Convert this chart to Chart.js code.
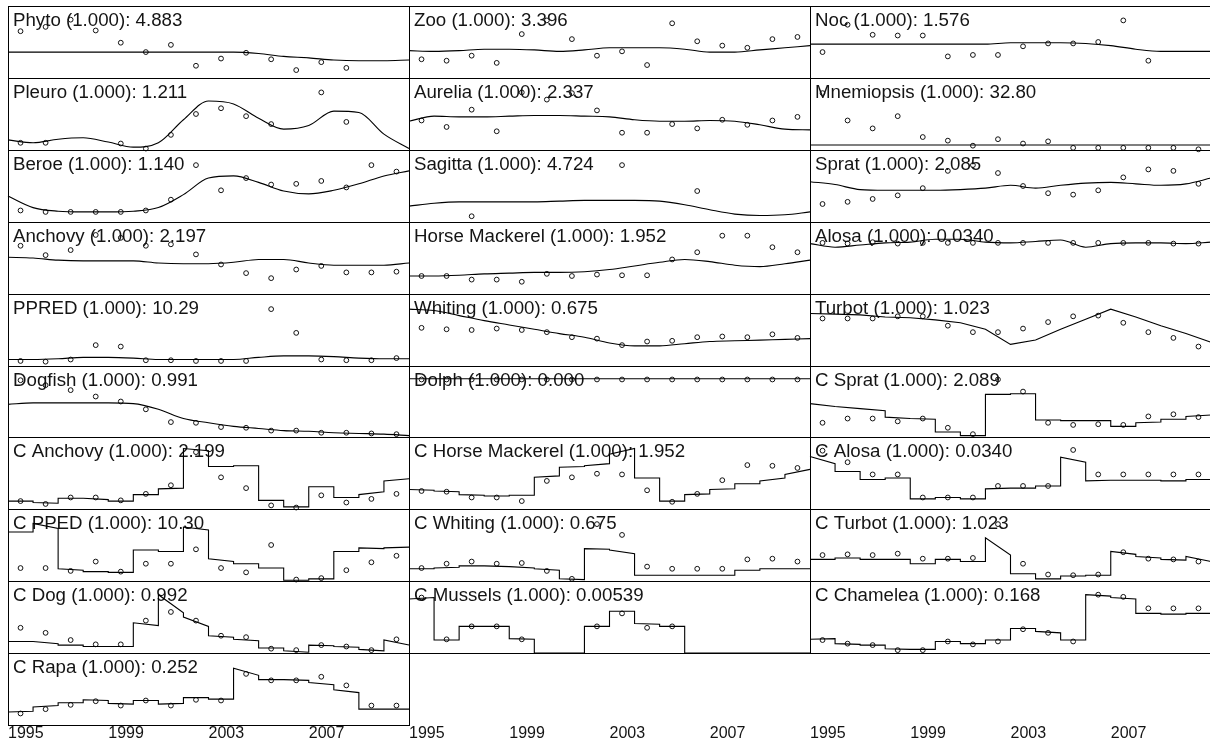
<!DOCTYPE html>
<html><head><meta charset="utf-8">
<script src="https://cdn.jsdelivr.net/npm/chart.js@4.4.1/dist/chart.umd.min.js"></script>
<style>
html,body{margin:0;padding:0;background:#fff;width:1210px;height:743px;overflow:hidden;position:relative}
canvas{position:absolute;display:block}
</style>
</head><body>
<script>
// ---- categories / ticks ----
const years = [1995,1996,1997,1998,1999,2000,2001,2002,2003,2004,2005,2006,2007,2008,2009,2010];
const fitYears = [1995,1996,1997,1998,1999,2000,2001,2002,2003,2004,2005,2006,2007,2008,2009,2010,2011];
const tickYears = [1995,1999,2003,2007];

// ---- values (relative, % of panel height) ----
const phytoObs = [65,71,81,66,49,36,46,17,27,35,26,11,22,14,null,null];
const phytoFit = [36,36,36,36,36,36,36,36,36,36,34,30,28,25,24,24,25];
const zooObs = [26,24,31,21,61,80,54,31,37,18,76,51,45,42,54,57];
const zooFit = [38,37,38,40,40,39,37,39,42,42,42,40,36,36,39,42,45];
const nocObs = [36,74,60,59,59,30,32,32,44,48,48,50,80,24,null,null];
const nocFit = [47,47,47,47,47,47,47,47,49,49,49,48,45,40,37,37,37];

const pleuroObs = [10,10,null,null,9,2,21,50,58,47,36,null,80,39,null,null];
const pleuroFit = [14,10,15,17,11,4,10,42,68,64,44,29,34,54,52,22,2];
const aureliaObs = [41,32,56,26,80,70,79,55,24,24,36,30,42,35,41,46];
const aureliaFit = [40,47,46,46,47,48,48,47,46,42,40,40,41,40,35,29,28];
const mnemiopsisObs = [79,41,30,47,18,13,6,15,9,12,3,3,3,3,3,1];
const mnemiopsisFit = [7,7,7,7,7,7,7,7,7,7,7,7,7,7,7,7,7];

const beroeObs = [16,14,14,14,14,16,31,79,44,61,52,53,57,48,79,70];
const beroeFit = [36,20,15,14,14,15,20,38,61,64,55,43,39,44,53,64,71];
const sagittaObs = [null,null,8,null,null,null,null,null,79,null,null,43,null,null,null,null];
const sagittaFit = [22,26,28,28,28,28,29,30,30,30,29,24,17,11,9,10,14];
const spratObs = [25,28,32,37,47,71,79,68,50,40,38,44,62,73,71,53];
const spratFit = [56,52,45,44,44,44,45,47,51,47,51,54,55,53,51,53,61];

const anchovyObs = [67,54,61,82,78,67,69,55,41,29,22,34,39,30,30,31];
const anchovyFit = [51,50,47,46,46,46,43,42,42,44,48,48,43,40,40,40,43];
const horseMackerelObs = [25,25,20,20,17,28,25,27,26,26,48,58,81,81,65,58];
const horseMackerelFit = [25,25,26,28,29,30,30,31,34,39,44,48,45,40,38,42,47];
const alosaObs = [71,70,72,70,71,71,71,71,71,71,71,71,71,71,70,70];
const alosaFit = [70,65,68,71,72,76,76,72,71,73,75,65,70,71,71,70,72];

const ppredObs = [7,6,9,29,27,8,8,7,7,7,79,46,9,8,8,11];
const ppredFit = [9,9,10,12,12,11,9,9,9,9,12,14,14,13,11,10,10];
const whitingObs = [53,51,50,52,50,47,40,38,29,34,35,40,41,40,44,39];
const whitingFit = [79,77,70,63,57,51,45,40,32,28,28,31,34,35,36,37,38];
const turbotObs = [66,66,66,69,69,56,47,47,52,61,69,70,60,47,39,27];
const turbotFit = [73,72,71,68,67,64,60,51,30,36,51,65,79,68,56,45,33];

const dogfishObs = [80,73,66,57,50,39,21,20,14,13,9,9,6,6,5,4];
const dogfishFit = [46,48,48,48,48,47,39,26,20,15,12,9,8,6,5,4,2];
const dolphObs = [81,81,81,81,81,81,81,81,81,81,81,81,81,81,81,81];
const dolphFit = [82,82,82,82,82,82,82,82,82,82,82,82,82,82,82,82,82];

// catch series: observed points and yearly fitted start / end values
const cSpratObs = [20,26,26,22,26,13,4,81,64,20,17,18,17,29,32,28];
const cSpratFrom = [47,43,40,28,26,7,2,60,61,24,23,23,15,20,25,29];
const cSpratTo = [43,40,37,26,25,7,2,60,61,24,23,23,15,21,25,31];

const cAnchovyObs = [11,7,16,16,12,21,33,79,44,29,5,2,19,9,14,21];
const cAnchovyFrom = [11,9,15,15,11,20,28,84,59,60,12,3,31,16,20,39];
const cAnchovyTo = [11,8,15,13,11,20,29,81,59,60,12,3,31,16,24,42];

const cHorseMackerelObs = [25,24,16,16,11,39,44,49,48,26,10,21,40,61,60,57];
const cHorseMackerelFrom = [27,25,20,18,19,44,58,60,76,43,11,20,27,35,39,48];
const cHorseMackerelTo = [26,24,19,18,19,46,59,63,84,43,11,21,28,35,43,55];

const cAlosaObs = [81,65,48,48,16,16,16,32,32,32,82,48,48,48,48,48];
const cAlosaFrom = [73,52,41,43,14,16,14,28,29,32,72,39,40,40,39,41];
const cAlosaTo = [63,52,41,43,14,16,14,29,29,32,65,40,40,40,39,41];

const cPpedObs = [18,18,14,27,13,24,24,44,18,12,50,2,4,15,26,35];
const cPpedFrom = [68,80,17,13,12,43,41,75,31,24,18,1,3,41,46,46];
const cPpedTo = [68,73,15,13,12,43,41,71,27,24,18,1,3,41,45,47];

const cWhitingObs = [18,24,27,24,25,14,3,79,64,20,17,17,17,30,31,27];
const cWhitingFrom = [17,18,21,21,20,17,3,45,43,8,8,8,8,15,17,17];
const cWhitingTo = [17,19,21,20,18,15,2,44,38,8,8,8,8,15,17,17];

const cTurbotObs = [36,37,36,38,31,31,32,79,24,9,8,9,40,31,30,27];
const cTurbotFrom = [30,32,30,30,24,30,27,60,10,3,7,8,41,34,30,34];
const cTurbotTo = [30,32,30,30,24,30,27,36,10,3,7,8,37,32,29,27];

const cDogObs = [35,28,18,12,12,45,57,45,24,22,6,4,11,9,4,19];
const cDogFrom = [16,16,11,9,9,42,81,50,24,19,7,3,11,9,5,18];
const cDogTo = [16,13,11,9,9,38,56,37,22,17,7,1,10,8,3,11];

const cMusselsObs = [77,19,37,37,19,null,null,37,55,35,37,null,null,null,null,null];
const cMusselsFrom = [75,18,37,37,20,0,0,37,58,41,37,0,0,0,0,0];
const cMusselsTo = [77,18,37,37,19,0,0,37,58,40,37,0,0,0,0,0];

const cChameleaObs = [18,13,11,4,4,16,12,16,33,28,16,81,78,62,62,62];
const cChameleaFrom = [19,13,11,6,5,16,13,18,34,30,18,81,77,55,54,55];
const cChameleaTo = [20,12,11,5,5,16,13,18,34,28,18,79,75,55,54,55];

const cRapaObs = [16,22,28,33,27,34,27,35,34,71,62,62,67,55,27,27];
const cRapaFrom = [18,25,31,35,30,34,29,38,36,79,63,63,59,49,22,22];
const cRapaTo = [19,27,31,34,29,34,30,38,36,69,63,62,56,45,22,22];

// ---- panel list ----
const panels = [
  {title:'Phyto (1.000): 4.883', obs:phytoObs, fit:phytoFit},
  {title:'Zoo (1.000): 3.396', obs:zooObs, fit:zooFit},
  {title:'Noc (1.000): 1.576', obs:nocObs, fit:nocFit},
  {title:'Pleuro (1.000): 1.211', obs:pleuroObs, fit:pleuroFit},
  {title:'Aurelia (1.000): 2.337', obs:aureliaObs, fit:aureliaFit},
  {title:'Mnemiopsis (1.000): 32.80', obs:mnemiopsisObs, fit:mnemiopsisFit},
  {title:'Beroe (1.000): 1.140', obs:beroeObs, fit:beroeFit},
  {title:'Sagitta (1.000): 4.724', obs:sagittaObs, fit:sagittaFit},
  {title:'Sprat (1.000): 2.085', obs:spratObs, fit:spratFit},
  {title:'Anchovy (1.000): 2.197', obs:anchovyObs, fit:anchovyFit},
  {title:'Horse Mackerel (1.000): 1.952', obs:horseMackerelObs, fit:horseMackerelFit},
  {title:'Alosa (1.000): 0.0340', obs:alosaObs, fit:alosaFit},
  {title:'PPRED (1.000): 10.29', obs:ppredObs, fit:ppredFit},
  {title:'Whiting (1.000): 0.675', obs:whitingObs, fit:whitingFit},
  {title:'Turbot (1.000): 1.023', obs:turbotObs, fit:turbotFit, straight:true},
  {title:'Dogfish (1.000): 0.991', obs:dogfishObs, fit:dogfishFit},
  {title:'Dolph (1.000): 0.000', obs:dolphObs, fit:dolphFit},
  {title:'C Sprat (1.000): 2.089', obs:cSpratObs, from:cSpratFrom, to:cSpratTo},
  {title:'C Anchovy (1.000): 2.199', obs:cAnchovyObs, from:cAnchovyFrom, to:cAnchovyTo},
  {title:'C Horse Mackerel (1.000): 1.952', obs:cHorseMackerelObs, from:cHorseMackerelFrom, to:cHorseMackerelTo},
  {title:'C Alosa (1.000): 0.0340', obs:cAlosaObs, from:cAlosaFrom, to:cAlosaTo},
  {title:'C PPED (1.000): 10.30', obs:cPpedObs, from:cPpedFrom, to:cPpedTo},
  {title:'C Whiting (1.000): 0.675', obs:cWhitingObs, from:cWhitingFrom, to:cWhitingTo},
  {title:'C Turbot (1.000): 1.023', obs:cTurbotObs, from:cTurbotFrom, to:cTurbotTo},
  {title:'C Dog (1.000): 0.992', obs:cDogObs, from:cDogFrom, to:cDogTo},
  {title:'C Mussels (1.000): 0.00539', obs:cMusselsObs, from:cMusselsFrom, to:cMusselsTo},
  {title:'C Chamelea (1.000): 0.168', obs:cChameleaObs, from:cChameleaFrom, to:cChameleaTo},
  {title:'C Rapa (1.000): 0.252', obs:cRapaObs, from:cRapaFrom, to:cRapaTo}
];

// ---- layout ----
const colLeft = [8, 409, 810];
const colW = 401;
const rowTop = [6, 78, 150, 222, 294, 366, 437, 509, 581, 653, 725];
const M = 6;
const AXIS_H = 18;
const FONT = '"Liberation Sans", Arial, Helvetica, sans-serif';

const panelDeco = {
  id: 'panelDeco',
  beforeDatasetsDraw(chart, args, opts) {
    if (!opts.title) return;
    const a = chart.chartArea, ctx = chart.ctx;
    ctx.save();
    ctx.font = '18.7px ' + FONT;
    ctx.fillStyle = '#141414';
    ctx.textBaseline = 'alphabetic';
    ctx.textAlign = 'left';
    ctx.fillText(opts.title, a.left + 5, a.top + 20);
    ctx.restore();
  },
  afterDatasetsDraw(chart, args, opts) {
    if (!opts.frame) return;
    const a = chart.chartArea, ctx = chart.ctx;
    ctx.save();
    ctx.strokeStyle = '#000';
    ctx.lineWidth = 1;
    ctx.strokeRect(Math.round(a.left) + 0.5, Math.round(a.top) + 0.5,
                   Math.round(a.right - a.left), Math.round(a.bottom - a.top));
    ctx.restore();
  }
};

function xScale(showAxis) {
  return {
    type: 'linear', min: 1995, max: 2011, display: showAxis,
    grid: {display: false, drawTicks: false},
    border: {display: false},
    afterBuildTicks: s => { s.ticks = tickYears.map(v => ({value: v})); },
    ticks: {
      padding: 1, align: 'start', autoSkip: false, maxRotation: 0,
      color: '#141414',
      font: {family: FONT, size: 16, lineHeight: 1},
      callback: v => String(v)
    }
  };
}

function makeCanvas(left, top, w, h) {
  const c = document.createElement('canvas');
  c.width = w; c.height = h;
  c.style.left = left + 'px'; c.style.top = top + 'px';
  c.style.width = w + 'px'; c.style.height = h + 'px';
  document.body.appendChild(c);
  return c;
}

panels.forEach((p, k) => {
  const col = k % 3, row = Math.floor(k / 3);
  const top = rowTop[row], h = rowTop[row + 1] - top;
  const withAxis = row === 9;
  const canvas = makeCanvas(colLeft[col] - M, top - M, colW + 2 * M, h + M + (withAxis ? AXIS_H : M));

  const pts = [];
  p.obs.forEach((v, i) => { if (v !== null) pts.push({x: years[i] + 0.5, y: v}); });

  let line;
  if (p.fit) {
    line = fitYears.map((x, i) => ({x, y: p.fit[i]}));
  } else {
    line = [];
    years.forEach((y0, i) => {
      line.push({x: fitYears[i], y: p.from[i]});
      line.push({x: fitYears[i + 1], y: p.to[i]});
    });
  }
  const smooth = !!p.fit && !p.straight;

  new Chart(canvas, {
    type: 'scatter',
    data: {
      datasets: [
        {
          data: line, showLine: true, borderColor: '#000', borderWidth: 1.1,
          pointRadius: 0, fill: false, clip: false,
          tension: 0, cubicInterpolationMode: smooth ? 'monotone' : 'default'
        },
        {
          data: pts, showLine: false, pointStyle: 'circle', pointRadius: 2.4,
          pointBorderWidth: 1, pointBorderColor: '#111',
          pointBackgroundColor: 'rgba(255,255,255,0)', clip: false
        }
      ]
    },
    options: {
      responsive: false, animation: false, devicePixelRatio: 1, events: [],
      layout: {padding: {left: M, right: M, top: M, bottom: withAxis ? 0 : M}},
      scales: {
        x: xScale(withAxis),
        y: {type: 'linear', min: 0, max: 100, display: false}
      },
      plugins: {legend: {display: false}, tooltip: {enabled: false},
                panelDeco: {title: p.title, frame: true}}
    },
    plugins: [panelDeco]
  });
});

// axis-only charts under the middle and right columns
[1, 2].forEach(col => {
  const top = rowTop[9], h = rowTop[10] - top;
  const canvas = makeCanvas(colLeft[col] - M, top - M, colW + 2 * M, h + M + AXIS_H);
  new Chart(canvas, {
    type: 'scatter',
    data: {datasets: [{data: [], pointRadius: 0}]},
    options: {
      responsive: false, animation: false, devicePixelRatio: 1, events: [],
      layout: {padding: {left: M, right: M, top: M, bottom: 0}},
      scales: {
        x: xScale(true),
        y: {type: 'linear', min: 0, max: 100, display: false}
      },
      plugins: {legend: {display: false}, tooltip: {enabled: false},
                panelDeco: {title: '', frame: false}}
    },
    plugins: [panelDeco]
  });
});
</script>
</body></html>
